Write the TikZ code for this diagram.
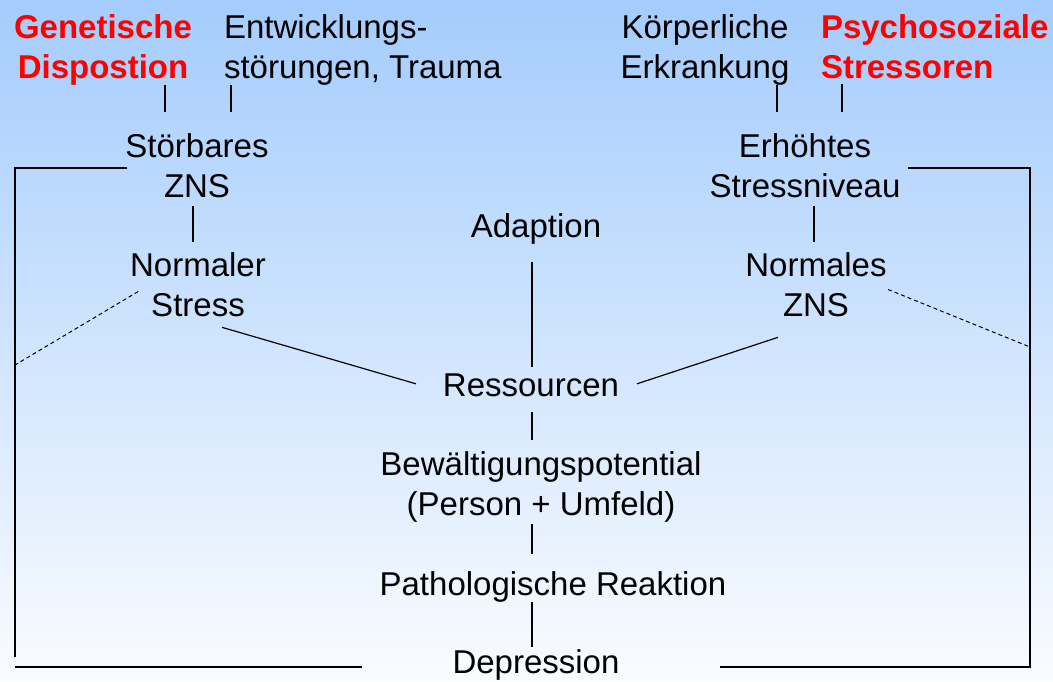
\documentclass[tikz,border=0pt]{standalone}
\usepackage{fontspec}
\setmainfont{Liberation Sans}
\usetikzlibrary{calc}
\definecolor{topblue}{RGB}{164,204,252}
\definecolor{botwhite}{RGB}{250,252,255}
\definecolor{hired}{RGB}{255,0,0}
\tikzset{
  lbl/.style={font=\fontsize{33}{40}\selectfont, inner sep=0pt, outer sep=0pt, align=center, anchor=base},
  hot/.style={lbl, text=hired, font=\fontsize{33}{40}\selectfont\bfseries},
  conn/.style={draw=black, line width=1.2pt},
  dashconn/.style={draw=black, line width=1pt, dash pattern=on 4pt off 3pt},
}
\begin{document}
\begin{tikzpicture}[x=1pt,y=-1pt]
\shade[top color=topblue,bottom color=botwhite] (0,0) rectangle (1053,681);
\useasboundingbox (0,0) rectangle (1053,681);

% top causes (anchor base = baseline of the last line)
\node[hot] (gen) at (103,78) {Genetische\\Dispostion};
\node[lbl, anchor=base west, align=left] (entw) at (224,78) {Entwicklungs-\\störungen, Trauma};
\node[lbl] (koerp) at (705,78) {Körperliche\\Erkrankung};
\node[hot, anchor=base west, align=left] (psy) at (821,78) {Psychosoziale\\Stressoren};

% second row
\node[lbl] (stor) at (197,197) {Störbares\\ZNS};
\node[lbl] (erh) at (805,197) {Erhöhtes\\Stressniveau};
\node[lbl] (norm1) at (198,316) {Normaler\\Stress};
\node[lbl] (norm2) at (816,316) {Normales\\ZNS};

% central column
\node[lbl] (adapt) at (536,237) {Adaption};
\node[lbl] (ress) at (531,396) {Ressourcen};
\node[lbl] (bew) at (541,515) {Bewältigungspotential\\(Person + Umfeld)};
\node[lbl] (path) at (553,595) {Pathologische Reaktion};
\node[lbl] (dep) at (536,673) {Depression};

% bracket corners
\coordinate (lt) at (15,168);
\coordinate (lb) at (15,657);
\coordinate (lbb) at (15,667);
\coordinate (rt) at (1030,168);
\coordinate (rb) at (1030,667);
\coordinate (ldash) at (15,365);
\coordinate (rdash) at (1030,347);

% connectors top
\draw[conn, shorten >=21pt] ($(gen.south)+(62pt,0)$) -- ($(gen.south |- stor.north)+(62pt,0)$);
\draw[conn, shorten >=21pt] ($(entw.south west)+(7pt,0)$) -- ($(entw.south west |- stor.north)+(7pt,0)$);
\draw[conn, shorten >=21.4pt] ($(koerp.south)+(72pt,0)$) -- ($(koerp.south |- erh.north)+(72pt,0)$);
\draw[conn, shorten <=6pt, shorten >=21.4pt] ($(psy.south west)+(21pt,0)$) -- ($(psy.south west |- erh.north)+(21pt,0)$);

\draw[conn, shorten <=9pt, shorten >=10.4pt] ($(stor.south)+(-4pt,0)$) -- ($(stor.south |- norm1.north)+(-4pt,0)$);
\draw[conn, shorten <=9pt, shorten >=10.4pt] ($(erh.south)+(9pt,0)$) -- ($(erh.south |- norm2.north)+(9pt,0)$);

\draw[conn] ($(norm1.south)+(24pt,-11pt)$) -- ($(ress.west)+(-27pt,1pt)$);
\draw[conn] ($(norm2.south)+(-38pt,-21pt)$) -- ($(ress.east)+(18pt,1pt)$);

\draw[conn, shorten <=18pt, shorten >=6.4pt] ($(adapt.south)+(-4pt,0)$) -- ($(adapt.south |- ress.north)+(-4pt,0)$);
\draw[conn, shorten <=16pt, shorten >=11.4pt] ($(ress.south)+(1pt,0)$) -- ($(ress.south |- bew.north)+(1pt,0)$);
\draw[conn, shorten <=2pt, shorten >=17.4pt] ($(bew.south)+(-9pt,0)$) -- ($(bew.south |- path.north)+(-9pt,0)$);
\draw[conn, shorten >=2.4pt] ($(path.south)+(-21pt,0)$) -- ($(path.south |- dep.north)+(-21pt,0)$);

% brackets
\draw[conn] ($(stor.west |- lt)+(2pt,0)$) -- (lt) -- (lb);
\draw[conn] (lbb) -- ($(dep.west |- lbb)+(-90.6pt,0)$);
\draw[conn] ($(erh.east |- rt)+(7.6pt,0)$) -- (rt) -- (rb) -- ($(dep.east |- rb)+(100.6pt,0)$);

% dashed feedback
\draw[dashconn] ($(norm1.west)+(8pt,-7.3pt)$) -- (ldash);
\draw[dashconn] ($(norm2.east)+(1.5pt,-5.3pt)$) -- (rdash);
\end{tikzpicture}
\end{document}
